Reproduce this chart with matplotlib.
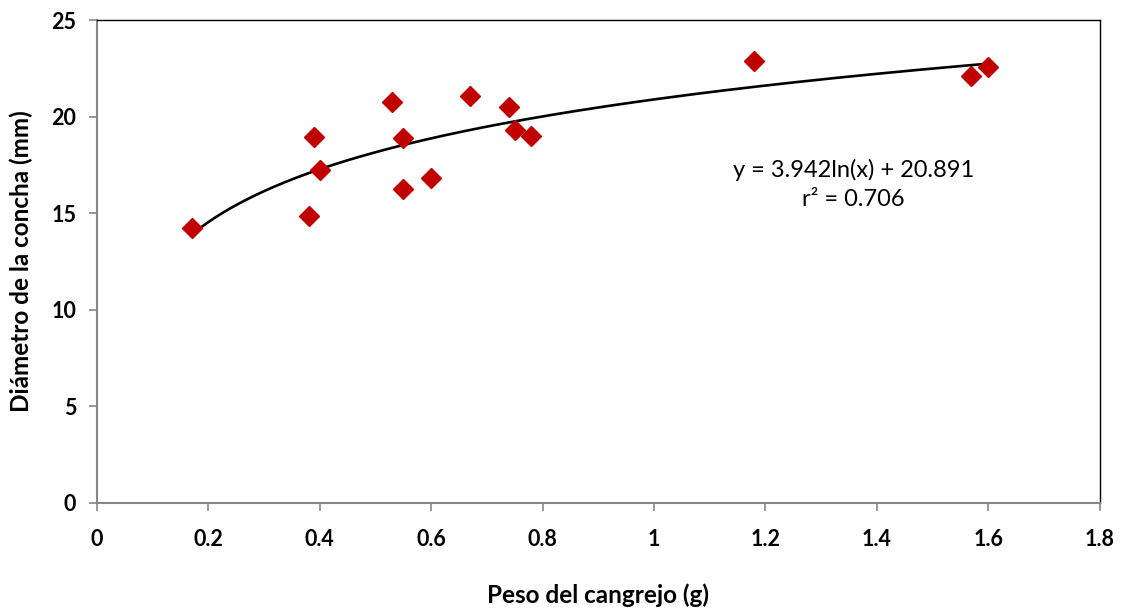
import numpy as np
import matplotlib
matplotlib.use('Agg')
import matplotlib.pyplot as plt

# crab weight (g) vs shell diameter (mm)
peso = [0.17, 0.38, 0.39, 0.40, 0.53, 0.55, 0.55, 0.60, 0.67, 0.74, 0.75, 0.78, 1.18, 1.57, 1.60]
diametro = [14.23, 14.86, 18.94, 17.22, 20.74, 18.87, 16.24, 16.82, 21.07, 20.51, 19.31, 19.00, 22.88, 22.12, 22.58]

# log trend line coefficients
coef_a = 3.942
coef_b = 20.891

x_ticks = [0, 0.2, 0.4, 0.6, 0.8, 1, 1.2, 1.4, 1.6, 1.8]
x_tick_labels = ['0', '0.2', '0.4', '0.6', '0.8', '1', '1.2', '1.4', '1.6', '1.8']
y_ticks = [0, 5, 10, 15, 20, 25]

plt.rcParams['font.family'] = ['Lato', 'DejaVu Sans']

fig = plt.figure(figsize=(11.22, 6.08), dpi=100)
ax = fig.add_axes([0.0865, 0.1727, 0.8935, 0.7943])

xs = np.linspace(min(peso), max(peso), 200)
ax.plot(xs, coef_a * np.log(xs) + coef_b, color='black', lw=1.9, zorder=2)
ax.plot(peso, diametro, linestyle='none', marker='D', markersize=10,
        color='#C00000', zorder=3)

ax.set_xlim(0, 1.8)
ax.set_ylim(0, 25)
ax.set_xticks(x_ticks)
ax.set_xticklabels(x_tick_labels)
ax.set_yticks(y_ticks)
ax.tick_params(axis='both', direction='out', length=6, width=1.2,
               color='#868686', labelsize=15.5)
ax.tick_params(axis='x', pad=13)
ax.tick_params(axis='y', pad=9)
for lbl in ax.get_xticklabels() + ax.get_yticklabels():
    lbl.set_fontweight('bold')

ax.spines['left'].set_color('#868686')
ax.spines['bottom'].set_color('#868686')
ax.spines['left'].set_linewidth(1.5)
ax.spines['bottom'].set_linewidth(1.5)
ax.spines['top'].set_color('black')
ax.spines['right'].set_color('black')
ax.spines['top'].set_linewidth(1)
ax.spines['right'].set_linewidth(1)

ax.set_xlabel('Peso del cangrejo (g)', fontsize=17.5, fontweight='bold')
ax.set_ylabel('Diámetro de la concha (mm)', fontsize=17.5, fontweight='bold')
ax.xaxis.set_label_coords(0.5, -0.166)
ax.yaxis.set_label_coords(-0.064, 0.5)

ax.text(1.358, 16.5, 'y = 3.942ln(x) + 20.891\nr² = 0.706', ha='center', va='center',
        fontsize=17, linespacing=1.5)

fig.savefig('out.png', dpi=100)
